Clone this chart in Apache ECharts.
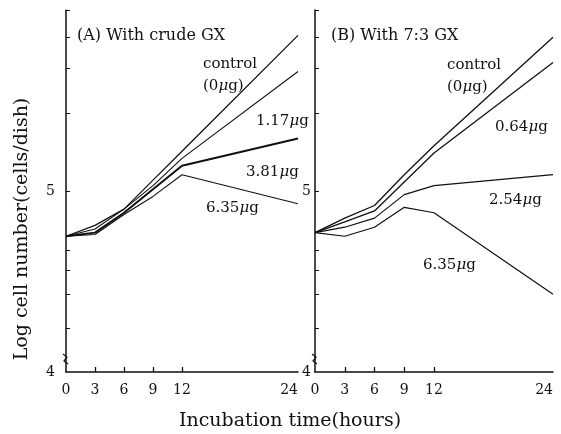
<!DOCTYPE html>
<html lang="en">
<head>
    <meta charset="utf-8">
    <title>Log cell number vs incubation time</title>
    <style>
        html, body { margin: 0; padding: 0; background: #fff; }
    </style>
</head>
<body>
    <div id="main" style="width:561px;height:434px;"></div>
    <script src="https://cdn.jsdelivr.net/npm/echarts@6/dist/echarts.min.js"></script>
    <script type="text/javascript">
        // sampling times (hours)
        var hours = [0, 3, 6, 9, 12, 24];
        var xLabels = [0, 3, 6, 9, 12, 24];

        // (A) crude GX -- log cell number
        var aControl = [4.75, 4.81, 4.90, 5.06, 5.22, 5.86];
        var aDose117 = [4.75, 4.79, 4.90, 5.03, 5.18, 5.66];
        var aDose381 = [4.75, 4.77, 4.88, 5.01, 5.14, 5.29];
        var aDose635 = [4.75, 4.76, 4.87, 4.97, 5.09, 4.93];

        // (B) 7:3 GX
        var bControl = [4.77, 4.85, 4.92, 5.09, 5.25, 5.85];
        var bDose064 = [4.77, 4.83, 4.89, 5.05, 5.21, 5.71];
        var bDose254 = [4.77, 4.80, 4.85, 4.98, 5.03, 5.09];
        var bDose635 = [4.77, 4.75, 4.80, 4.91, 4.88, 4.43];

        var yLabels = [4, 5];
        var yTicks = [4.24, 4.43, 4.56, 4.67, 5, 5.43, 5.68, 5.85, 6];

        var serif = '"DejaVu Serif", "Liberation Serif", serif';
        var ink = '#111';

        function pairs(vals) {
            return hours.map(function (h, i) { return [h, vals[i]]; });
        }

        function line(name, vals, idx, width) {
            return {
                name: name,
                type: 'line',
                xAxisIndex: idx,
                yAxisIndex: idx,
                data: pairs(vals),
                showSymbol: false,
                symbol: 'none',
                silent: true,
                lineStyle: { color: ink, width: width || 1.2 }
            };
        }

        function xAxisOpt(idx) {
            return {
                type: 'value',
                gridIndex: idx,
                min: 0,
                max: 24,
                axisLine: { show: true, lineStyle: { color: ink, width: 1.5 } },
                axisTick: { show: true, inside: true, length: 5, customValues: [3, 6, 9, 12],
                    lineStyle: { color: ink, width: 1.3 } },
                axisLabel: { show: true, color: ink, fontFamily: serif, fontSize: 14, margin: 11,
                    customValues: xLabels, alignMaxLabel: 'right' },
                splitLine: { show: false }
            };
        }

        function yAxisOpt(idx, labelMargin) {
            return {
                type: 'value',
                gridIndex: idx,
                min: 4,
                max: 6,
                axisLine: { show: true, lineStyle: { color: ink, width: 1.5 } },
                axisTick: { show: true, inside: true, length: 4, customValues: yTicks,
                    lineStyle: { color: ink, width: 1 } },
                axisLabel: { show: true, color: ink, fontFamily: serif, fontSize: 14, margin: labelMargin,
                    customValues: yLabels },
                splitLine: { show: false }
            };
        }

        var muRich = { m: { fontFamily: serif, fontSize: 15, fontStyle: 'italic', fill: ink } };

        function note(x, y, num, tail) {
            return {
                type: 'text',
                x: x,
                y: y,
                style: {
                    text: num + '{m|μ}g' + (tail || ''),
                    verticalAlign: 'middle',
                    fill: ink,
                    fontFamily: serif,
                    fontSize: 15,
                    rich: muRich
                }
            };
        }

        function plain(x, y, text, size, align, rot) {
            return {
                type: 'text',
                x: x,
                y: y,
                rotation: rot || 0,
                style: {
                    text: text,
                    align: align || 'left',
                    verticalAlign: 'middle',
                    fill: ink,
                    fontFamily: serif,
                    fontSize: size
                }
            };
        }

        var myChart = echarts.init(document.getElementById('main'), null, { renderer: 'canvas' });

        var option = {
            backgroundColor: '#fff',
            animation: false,
            grid: [
                { left: 66, top: 10, width: 232, height: 362, containLabel: false },
                { left: 315, top: 10, width: 238, height: 362, containLabel: false }
            ],
            xAxis: [xAxisOpt(0), xAxisOpt(1)],
            yAxis: [yAxisOpt(0, 11), yAxisOpt(1, 4)],
            series: [
                line('control', aControl, 0, 1.3),
                line('1.17', aDose117, 0, 1.1),
                line('3.81', aDose381, 0, 2),
                line('6.35', aDose635, 0, 1.1),
                line('control', bControl, 1, 1.3),
                line('0.64', bDose064, 1, 1.3),
                line('2.54', bDose254, 1, 1.2),
                line('6.35', bDose635, 1, 1.2)
            ],
            graphic: [
                plain(77, 36, '(A) With crude GX', 16),
                plain(331, 36, '(B) With 7:3 GX', 16),
                plain(203, 64, 'control', 15),
                note(203, 86, '(0', ')'),
                note(256, 121, '1.17'),
                note(246, 172, '3.81'),
                note(206, 208, '6.35'),
                plain(447, 65, 'control', 15),
                note(447, 87, '(0', ')'),
                note(495, 127, '0.64'),
                note(489, 200, '2.54'),
                note(423, 265, '6.35'),
                plain(290, 421, 'Incubation time(hours)', 19, 'center'),
                plain(22, 229, 'Log cell number(cells/dish)', 19, 'center', Math.PI / 2),
                // axis break marks
                {
                    type: 'polyline',
                    shape: { points: [[63, 354], [67, 357], [64, 361], [68, 364]] },
                    style: { stroke: ink, lineWidth: 1.2, fill: null }
                },
                {
                    type: 'polyline',
                    shape: { points: [[312, 354], [316, 357], [313, 361], [317, 364]] },
                    style: { stroke: ink, lineWidth: 1.2, fill: null }
                }
            ]
        };
        myChart.setOption(option);
    </script>
</body>
</html>
